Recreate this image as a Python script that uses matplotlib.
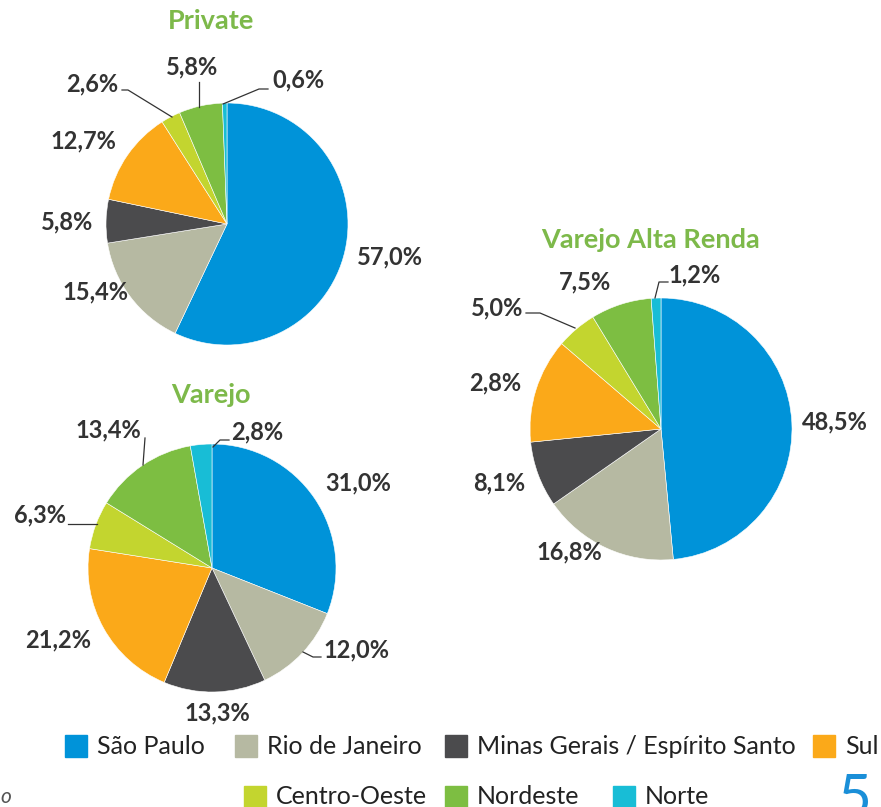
import matplotlib.pyplot as plt

plt.rcParams['font.family'] = ['Lato', 'DejaVu Sans']

# regions, same order for every pie
regions = ["São Paulo", "Rio de Janeiro", "Minas Gerais / Espírito Santo", "Sul",
           "Centro-Oeste", "Nordeste", "Norte"]
colors = ["#0093D9", "#B6B9A2", "#4B4B4D", "#FBA919", "#C3D52F", "#7DBE42", "#18BDD6"]

private_vals = [57.0, 15.4, 5.8, 12.7, 2.6, 5.8, 0.6]
private_labels = ["57,0%", "15,4%", "5,8%", "12,7%", "2,6%", "5,8%", "0,6%"]

varejo_vals = [31.0, 12.0, 13.3, 21.2, 6.3, 13.4, 2.8]
varejo_labels = ["31,0%", "12,0%", "13,3%", "21,2%", "6,3%", "13,4%", "2,8%"]

# Sul slice is drawn ~12.9% but labelled 2,8% in the original
alta_vals = [48.5, 16.8, 8.1, 12.9, 5.0, 7.5, 1.2]
alta_labels = ["48,5%", "16,8%", "8,1%", "2,8%", "5,0%", "7,5%", "1,2%"]

W, H = 881, 807
fig = plt.figure(figsize=(W / 100, H / 100), dpi=100)
ax = fig.add_axes([0, 0, 1, 1])

TXT = "#333333"
GREEN = "#7DB94A"

# layout: (title, values, labels, centre, radius, title pos, label positions, leader lines)
pies = [
    ("Private", private_vals, private_labels, (227, 224), 121, (211, 21),
     [(390, 257), (95, 292), (67, 222), (83, 141), (92, 84), (192, 67), (298, 80)],
     [[(122, 90), (128, 90), (172, 117)],
      [(199, 82), (199, 107)],
      [(268, 89), (259, 89), (223, 104)]]),
    ("Varejo", varejo_vals, varejo_labels, (212, 568), 124, (211, 395),
     [(358, 483), (356, 650), (217, 713), (58, 640), (40, 515), (108, 430), (257, 432)],
     [[(303, 652), (313, 657), (321, 657)],
      [(68, 524), (97, 524)],
      [(145, 438), (143, 465)],
      [(229, 440), (220, 440), (213, 447)]]),
    ("Varejo Alta Renda", alta_vals, alta_labels, (661, 429), 131, (651, 240),
     [(835, 422), (569, 552), (499, 483), (495, 383), (497, 308), (585, 282), (695, 275)],
     [[(526, 313), (540, 313), (575, 328)],
      [(668, 282), (659, 282), (655, 298)]]),
]

for title, vals, labels, centre, r, tpos, lpos, leaders in pies:
    # y axis is inverted below, so counterclock=True turns clockwise on screen
    ax.pie(vals, colors=colors, startangle=-90, counterclock=True,
           center=centre, radius=r,
           wedgeprops=dict(linewidth=0.4, edgecolor="white"))
    ax.text(tpos[0], tpos[1], title, ha="center", va="center",
            fontsize=19.5, fontweight="bold", color=GREEN)
    for lab, (x, y) in zip(labels, lpos):
        ax.text(x, y, lab, ha="center", va="center", fontsize=17,
                fontweight="bold", color=TXT)
    for line in leaders:
        xs, ys = zip(*line)
        ax.plot(xs, ys, color=TXT, lw=0.9)

# legend, two rows
leg_pos = [(65, 746), (235, 746), (445, 746), (813, 746),
           (244, 797), (445, 797), (613, 797)]
for name, col, (x, y) in zip(regions, colors, leg_pos):
    ax.add_patch(plt.Rectangle((x, y - 11), 22, 22, color=col))
    ax.text(x + 32, y, name, ha="left", va="center", fontsize=18, color="#222222")

ax.text(0, 797, "o", ha="left", va="center", fontsize=15, style="italic", color="#555555")
# page number, cut by the bottom edge as in the source
ax.text(838, 773, "5", ha="left", va="top", fontsize=42, color="#1A8FD8")

ax.set_aspect("equal")
ax.set_xlim(0, W)
ax.set_ylim(H, 0)
ax.axis("off")

fig.savefig("out.png", dpi=100)
